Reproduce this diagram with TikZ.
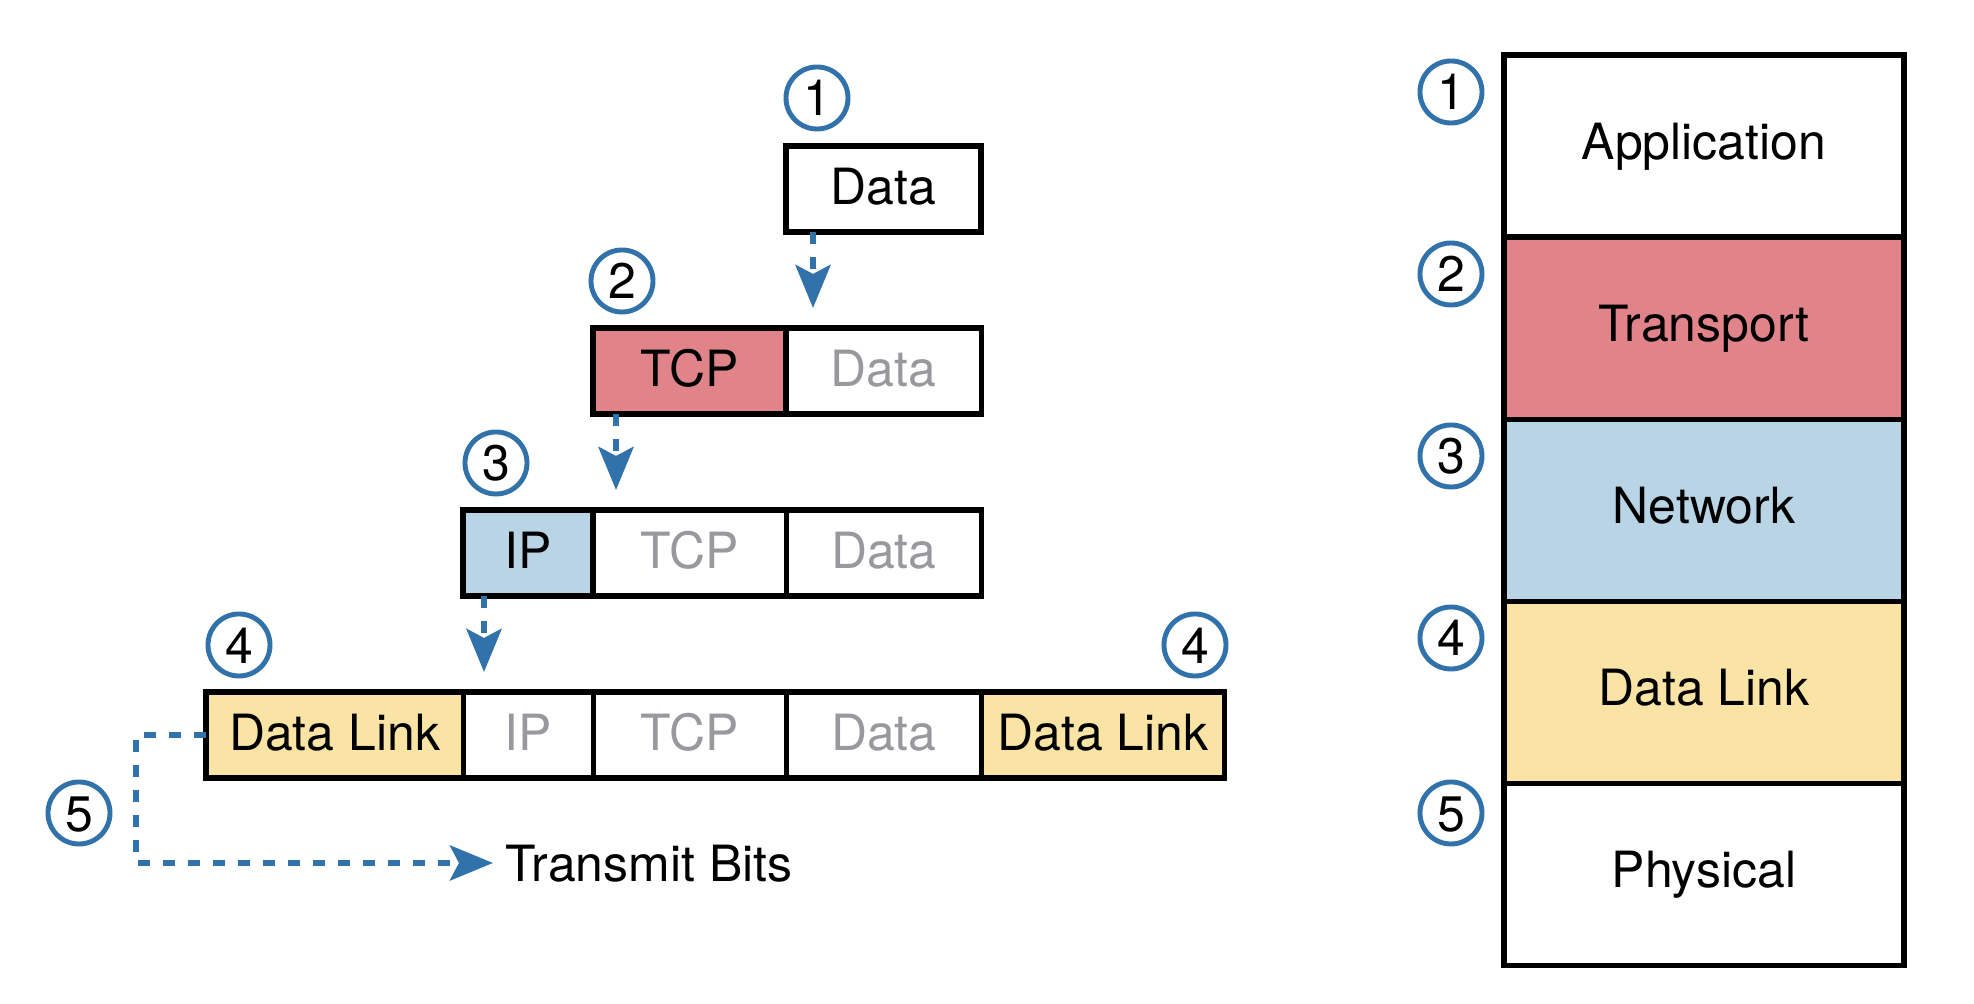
\documentclass[tikz,border=0pt]{standalone}
\usepackage{fontspec}
\setmainfont{TeX Gyre Heros}
\usetikzlibrary{positioning,arrows.meta}
\definecolor{flowblue}{RGB}{49,114,170}
\definecolor{tcpred}{RGB}{224,132,137}
\definecolor{ipblue}{RGB}{184,212,229}
\definecolor{dlyellow}{RGB}{249,228,166}
\definecolor{oldgrey}{RGB}{153,153,157}
\tikzset{
  cell/.style={draw, line width=1.5pt, outer sep=0pt, inner sep=0pt,
    minimum height=0.86cm, text height=0.36cm, text depth=0.06cm},
  layer/.style={cell, minimum width=4cm, minimum height=1.82cm, text depth=0.1cm},
  old/.style={text=oldgrey},
  num/.style={circle, draw=flowblue, line width=1.4pt, minimum size=0.62cm,
    inner sep=0pt, text height=0.36cm, text depth=0pt},
  flow/.style={color=flowblue, line width=1.7pt, dash pattern=on 0.12cm off 0.13cm,
    -{Stealth[length=0.43cm,width=0.35cm,inset=0.09cm]}},
}
\begin{document}
\begin{tikzpicture}[x=0.01cm, y=-0.01cm, font=\fontsize{14.2}{17}\selectfont]
  \useasboundingbox (0,0) rectangle (1974,1004);
  % encapsulation, top to bottom
  \node[cell, minimum width=1.95cm, anchor=north west] (d1) at (786,146) {Data};
  \node[cell, fill=tcpred, minimum width=1.93cm, anchor=north west] (t2) at (593,328) {TCP};
  \node[cell, old, minimum width=1.95cm, right=0pt of t2] (d2) {Data};
  \node[cell, fill=ipblue, minimum width=1.30cm, anchor=north west] (ip3) at (463,510) {IP};
  \node[cell, old, minimum width=1.93cm, right=0pt of ip3] (t3) {TCP};
  \node[cell, old, minimum width=1.95cm, right=0pt of t3] (d3) {Data};
  \node[cell, fill=dlyellow, minimum width=2.57cm, anchor=north west] (dl4) at (206,692) {Data Link};
  \node[cell, old, minimum width=1.30cm, right=0pt of dl4] (ip4) {IP};
  \node[cell, old, minimum width=1.93cm, right=0pt of ip4] (t4) {TCP};
  \node[cell, old, minimum width=1.95cm, right=0pt of t4] (d4) {Data};
  \node[cell, fill=dlyellow, minimum width=2.43cm, right=0pt of d4] (tr4) {Data Link};
  \node[anchor=west, inner xsep=0.12cm, inner ysep=0pt, text height=0.36cm, text depth=0pt]
    (bits) at (493,863) {Transmit Bits};

  \node[num] (n1) at (817,98) {1};
  \node[num] (n2) at (622,281) {2};
  \node[num] (n3) at (496,463) {3};
  \node[num] (n4) at (239,645) {4};
  \node[num] (n4r) at (1195,645) {4};
  \node[num] (n5) at (79,813) {5};

  \coordinate (a1) at ([xshift=0.27cm]d1.south west);
  \coordinate (a2) at ([xshift=0.23cm]t2.south west);
  \coordinate (a3) at ([xshift=0.21cm]ip3.south west);
  \draw[flow, shorten >=0.2cm] (a1) -- (a1 |- d2.north);
  \draw[flow, shorten >=0.2cm] (a2) -- (a2 |- t3.north);
  \draw[flow, shorten >=0.2cm] (a3) -- (a3 |- ip4.north);
  \draw[flow] (dl4.west) -- ++(-70,0) |- (bits.west);

  % layer stack
  \node[layer, anchor=north] (app) at (1704,55) {Application};
  \node[layer, fill=tcpred, below=0pt of app] (tra) {Transport};
  \node[layer, fill=ipblue, below=0pt of tra] (net) {Network};
  \node[layer, fill=dlyellow, below=0pt of net] (lnk) {Data Link};
  \node[layer, below=0pt of lnk] (phy) {Physical};
  \node[num] (s1) at (1451,92) {1};
  \node[num] (s2) at (1451,274) {2};
  \node[num] (s3) at (1451,456) {3};
  \node[num] (s4) at (1451,638) {4};
  \node[num] (s5) at (1451,813) {5};
\end{tikzpicture}
\end{document}
